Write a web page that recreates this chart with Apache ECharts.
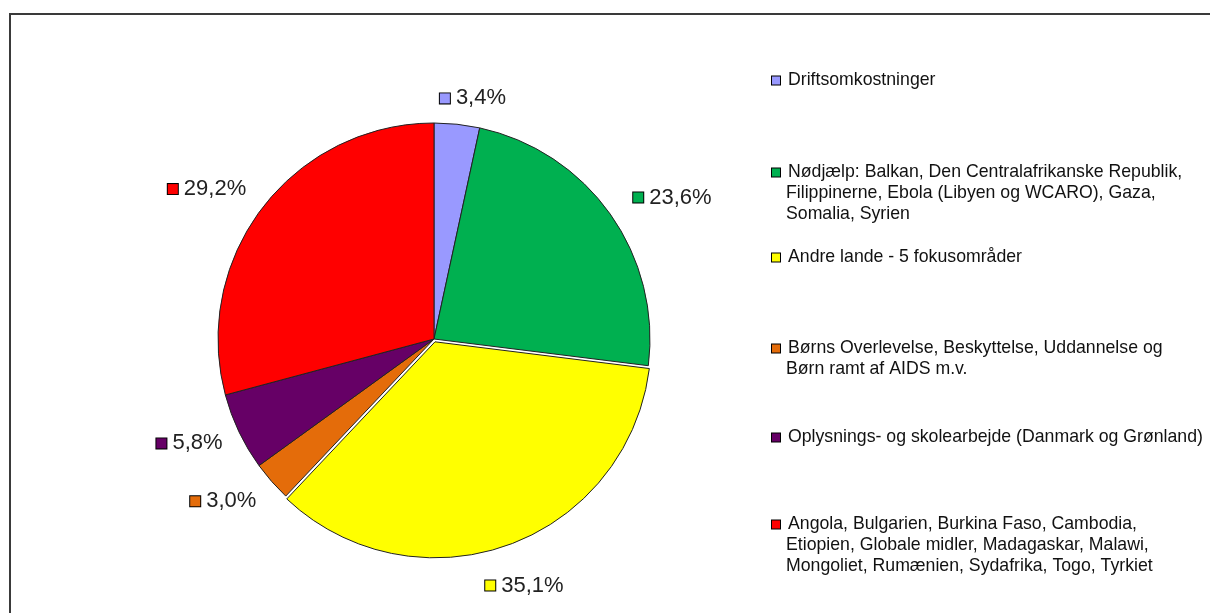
<!DOCTYPE html>
<html>
<head>
<meta charset="utf-8">
<script src="https://cdn.jsdelivr.net/npm/echarts@6/dist/echarts.min.js"></script>
<style>html,body{margin:0;padding:0;background:#fff}#c{width:1210px;height:613px}</style>
</head>
<body>
<div id="c"></div>
<script>
// Data
const categoryLines = [
  ['Driftsomkostninger'],
  ['Nødjælp: Balkan, Den Centralafrikanske Republik,', 'Filippinerne, Ebola (Libyen og WCARO), Gaza,', 'Somalia, Syrien'],
  ['Andre lande - 5 fokusområder'],
  ['Børns Overlevelse, Beskyttelse, Uddannelse og', 'Børn ramt af AIDS m.v.'],
  ['Oplysnings- og skolearbejde (Danmark og Grønland)'],
  ['Angola, Bulgarien, Burkina Faso, Cambodia,', 'Etiopien, Globale midler, Madagaskar, Malawi,', 'Mongoliet, Rumænien, Sydafrika, Togo, Tyrkiet']
];
const shares = [3.4, 23.6, 35.1, 3.0, 5.8, 29.2];
const colors = ['#9999FF', '#00B050', '#FFFF00', '#E46C0A', '#660066', '#FF0000'];

// Layout / styling
const FONT = "'Liberation Sans', Arial, sans-serif";
const legendTops = [70, 162, 247, 338, 427, 514];
const labelAdjust = [
  {dx: -20, dy: 1}, {dx: 1, dy: -1}, {dx: -32, dy: 15},
  {dx: 5, dy: 2}, {dx: 8, dy: 0}, {dx: 5, dy: -2}
];

const names = categoryLines.map(l => l.join(' '));
const nameToLines = {};
names.forEach((n, i) => nameToLines[n] = categoryLines[i]);

const labelRich = {};
colors.forEach((c, i) => {
  labelRich['s' + i] = {width: 10, height: 10, backgroundColor: c, borderColor: '#000', borderWidth: 1, verticalAlign: 'middle'};
});
labelRich.g = {width: 6};
labelRich.v = {fontSize: 22, fontFamily: FONT, color: '#222', verticalAlign: 'middle'};

const legends = names.map((n, i) => {
  const rich = {
    m: {width: 8, height: 8, backgroundColor: colors[i], borderColor: '#000', borderWidth: 1, verticalAlign: 'middle'},
    g: {width: 8},
    ind: {width: 14},
    t: {fontSize: 17.7, fontFamily: FONT, color: '#111', lineHeight: 21, verticalAlign: 'middle'}
  };
  return {
    orient: 'vertical',
    left: 766,
    top: legendTops[i],
    padding: 0,
    itemWidth: 0,
    itemHeight: 0,
    itemGap: 0,
    selectedMode: false,
    data: [n],
    textStyle: {fontSize: 17.7, fontFamily: FONT, color: '#111', lineHeight: 21, rich: rich},
    formatter: function (name) {
      const lines = nameToLines[name];
      return lines.map((l, k) => k === 0 ? '{m| }{g| }{t|' + l + '}' : '{ind| }{t|' + l + '}').join('\n');
    }
  };
});

const chart = echarts.init(document.getElementById('c'), null, {renderer: 'canvas'});
chart.setOption({
  backgroundColor: '#fff',
  animation: false,
  color: colors,
  graphic: [{
    type: 'rect',
    shape: {x: 10, y: 14, width: 1400, height: 800},
    style: {fill: 'none', stroke: '#3a3a3a', lineWidth: 2},
    silent: true,
    z: -1
  }],
  legend: legends,
  series: [{
    type: 'pie',
    center: [434, 339],
    radius: [0, 216],
    startAngle: 90,
    clockwise: true,
    avoidLabelOverlap: false,
    selectedMode: 'single',
    selectedOffset: 3,
    itemStyle: {borderColor: '#222', borderWidth: 1},
    label: {
      show: true,
      position: 'outside',
      alignTo: 'none',
      distanceToLabelLine: 0,
      formatter: function (p) {
        return '{s' + p.dataIndex + '| }{g| }{v|' + p.value.toFixed(1).replace('.', ',') + '%}';
      },
      rich: labelRich
    },
    labelLine: {show: false, length: 27, length2: 0},
    labelLayout: function (p) { return labelAdjust[p.dataIndex]; },
    emphasis: {disabled: true},
    data: names.map((n, i) => ({name: n, value: shares[i], selected: i === 2}))
  }]
});
</script>
</body>
</html>
